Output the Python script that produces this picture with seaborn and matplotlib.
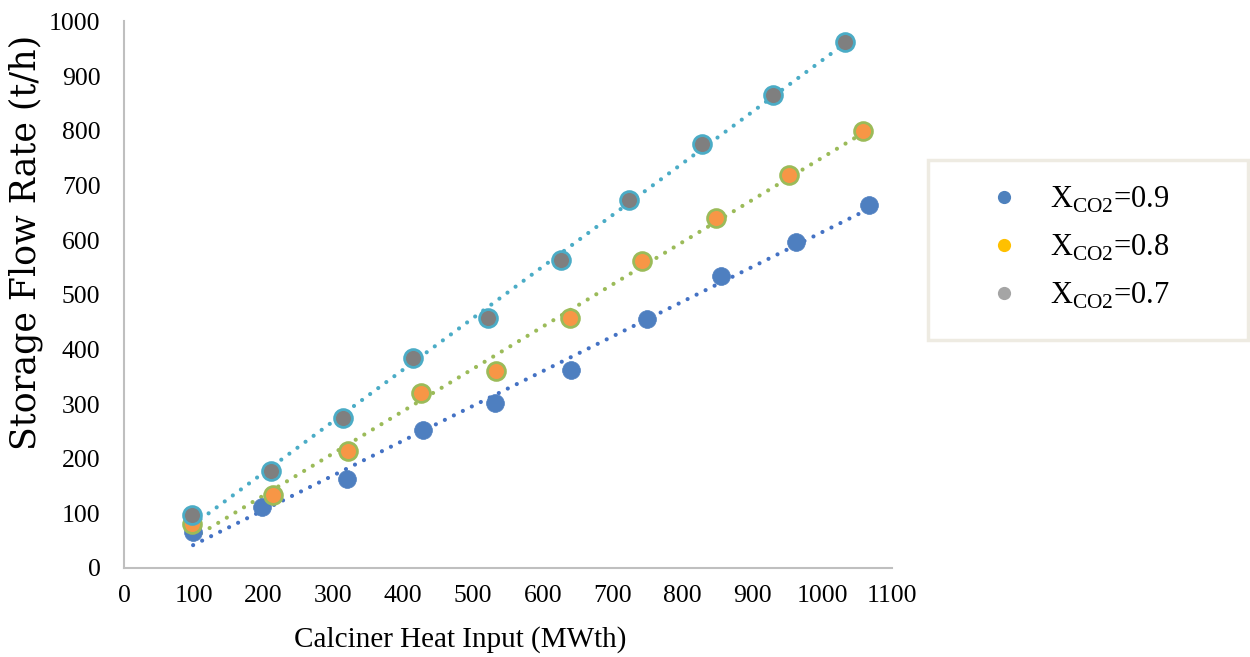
import numpy as np
import pandas as pd
import matplotlib
matplotlib.use("Agg")
import matplotlib.pyplot as plt
import seaborn as sns
from matplotlib.lines import Line2D
from matplotlib.patches import Rectangle

# ---- data ----
x_09 = [99, 198, 320, 428, 532, 640, 749, 855, 963, 1067]
y_09 = [66, 111, 162, 252, 302, 363, 455, 535, 597, 665]
x_08 = [98, 214, 321, 425, 533, 639, 742, 848, 953, 1059]
y_08 = [80, 134, 214, 320, 361, 457, 561, 641, 720, 800]
x_07 = [98, 211, 314, 414, 521, 626, 723, 828, 930, 1033]
y_07 = [97, 177, 275, 385, 457, 563, 674, 775, 866, 963]

labels = [r"X$_{\mathregular{CO2}}$=0.9", r"X$_{\mathregular{CO2}}$=0.8", r"X$_{\mathregular{CO2}}$=0.7"]
x_ticks = [0, 100, 200, 300, 400, 500, 600, 700, 800, 900, 1000, 1100]
y_ticks = [0, 100, 200, 300, 400, 500, 600, 700, 800, 900, 1000]

sns.set_theme(style="white")
plt.rcParams['font.family'] = ['Liberation Serif', 'DejaVu Serif']
plt.rcParams['text.color'] = 'black'
plt.rcParams['axes.labelcolor'] = 'black'

fig = plt.figure(figsize=(12.5, 6.57), dpi=100)
ax = fig.add_axes([0.0992, 0.1355, 0.6144, 0.8318])

series = [
    (x_09, y_09, "#4e7fc0", "#4e7fc0", "#4472c4"),
    (x_08, y_08, "#f79646", "#9bbb59", "#9bbb59"),
    (x_07, y_07, "#7f7f7f", "#4bacc6", "#4bacc6"),
]

# linear trend lines
for xs, ys, fc, ec, lc in series:
    xs = np.array(xs, float); ys = np.array(ys, float)
    m, b = np.polyfit(xs, ys, 1)
    xt = np.array([xs.min(), xs.max()])
    df_t = pd.DataFrame({"x": xt, "y": m * xt + b})
    sns.lineplot(data=df_t, x="x", y="y", ax=ax, color=lc, lw=3.0,
                 linestyle=(0, (0.01, 2.4)), dash_capstyle="round", zorder=2)

for xs, ys, fc, ec, lc in series:
    df = pd.DataFrame({"x": xs, "y": ys})
    sns.scatterplot(data=df, x="x", y="y", ax=ax, color=fc, edgecolor=ec,
                    linewidth=2.0 if ec != fc else 0.5, s=165, zorder=3)

ax.set_xlim(0, 1100)
ax.set_ylim(0, 1000)
ax.set_xticks(x_ticks)
ax.set_yticks(y_ticks)
ax.tick_params(axis="both", labelsize=18.5, length=0, colors="black")
ax.tick_params(axis="y", pad=17)
ax.tick_params(axis="x", pad=12)
for s in ["top", "right"]:
    ax.spines[s].set_visible(False)
for s in ["left", "bottom"]:
    ax.spines[s].set_color("#bfbfbf")
    ax.spines[s].set_linewidth(1.5)

ax.set_xlabel("Calciner Heat Input (MWth)", fontsize=21, va="center")
ax.xaxis.set_label_coords((460 - 124) / 768, (568 - 640) / 547)
ax.set_ylabel("Storage Flow Rate (t/h)", fontsize=25, va="center",
              family=["DejaVu Serif"])
ax.yaxis.set_label_coords((26 - 124) / 768, (568 - 242) / 547)

# legend box
fig.patches.append(Rectangle((928 / 1250, 1 - 340 / 657), 320 / 1250, 180 / 657,
                             transform=fig.transFigure, facecolor="white",
                             edgecolor="#eeebe2", lw=2.5, zorder=0))
handles = [Line2D([], [], ls="none", marker="o", markersize=9.5, color=c, markeredgewidth=0)
           for c in ["#4e81bd", "#ffc000", "#a5a5a5"]]
fig.legend(handles, labels, loc="upper left", bbox_to_anchor=(989 / 1250, 1 - 185 / 657),
           frameon=False, prop={"family": "Liberation Serif", "size": 22},
           labelspacing=0.58, handletextpad=1.0, handlelength=1.0,
           borderpad=0, borderaxespad=0)

fig.savefig("out.png", dpi=100)
